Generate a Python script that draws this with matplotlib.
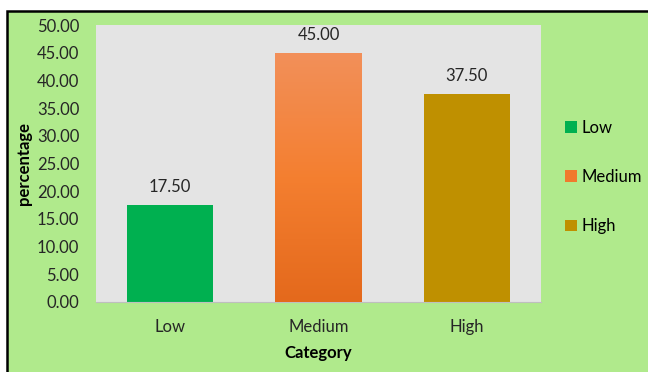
import numpy as np
import matplotlib.pyplot as plt
from matplotlib.patches import Rectangle, Patch
from matplotlib.colors import LinearSegmentedColormap

categories = ['Low', 'Medium', 'High']
values = [17.50, 45.00, 37.50]
colors = ['#00B050', '#F07A2C', '#BF9000']
yticks = [0, 5, 10, 15, 20, 25, 30, 35, 40, 45, 50]

plt.rcParams['font.family'] = ['Lato', 'DejaVu Sans']

fig = plt.figure(figsize=(6.48, 3.72), dpi=100)
fig.patch.set_facecolor('white')

# green chart area with black border
frame = Rectangle((7 / 648, -0.05), 1.0, 0.97 + 0.05, transform=fig.transFigure,
                  facecolor='#B0EA8C', edgecolor='black', linewidth=1.8, zorder=-10)
fig.patches.append(frame)

ax = fig.add_axes([96 / 648, 1 - 302 / 372, 445 / 648, 277 / 372])
ax.set_facecolor('#E4E4E4')

x = np.arange(len(categories))
bars = ax.bar(x, values, width=0.58, color=colors, zorder=2)

# gradient on the medium bar
med = bars[1]
grad = np.linspace(0, 1, 256).reshape(-1, 1)
cmap = LinearSegmentedColormap.from_list('og', ['#E4691C', '#F47F30', '#F2905A'])
bx, by = med.get_x(), med.get_y()
im = ax.imshow(grad, cmap=cmap, aspect='auto', origin='lower',
               extent=[bx, bx + med.get_width(), by, by + med.get_height()], zorder=3)
im.set_clip_path(med)

for b, v in zip(bars, values):
    ax.text(b.get_x() + b.get_width() / 2, v + 1.8, f'{v:.2f}', ha='center', va='bottom',
            fontsize=12, color='#262626')

ax.set_xlim(-0.5, 2.5)
ax.set_ylim(0, 50)
ax.set_yticks(yticks)
ax.set_yticklabels([f'{t:.2f}' for t in yticks], fontsize=12, color='#262626')
ax.set_xticks(x)
ax.set_xticklabels(categories, fontsize=12, color='#262626')
ax.tick_params(axis='both', length=0)
ax.tick_params(axis='y', pad=12)
ax.tick_params(axis='x', pad=12)
for s in ['top', 'right', 'left']:
    ax.spines[s].set_visible(False)
ax.spines['bottom'].set_color('#BFBFBF')

ax.set_xlabel('Category', fontsize=12, fontweight='bold')
ax.xaxis.set_label_coords(0.5, -(353 - 302) / 277, transform=ax.transAxes)
ax.xaxis.label.set_va('center')
ax.set_ylabel('percentage', fontsize=12, fontweight='bold')
ax.yaxis.set_label_coords(-(96 - 24) / 445, 0.5, transform=ax.transAxes)
ax.yaxis.label.set_va('center')

handles = [Patch(facecolor=c, label=l) for c, l in zip(colors, categories)]
leg = fig.legend(handles=handles, loc='center left', bbox_to_anchor=(550 / 648, 1 - 177 / 372),
                 frameon=False, fontsize=12, handlelength=0.7, handleheight=0.7,
                 handletextpad=0.3, labelspacing=2.0)

fig.savefig('out.png', dpi=100)
